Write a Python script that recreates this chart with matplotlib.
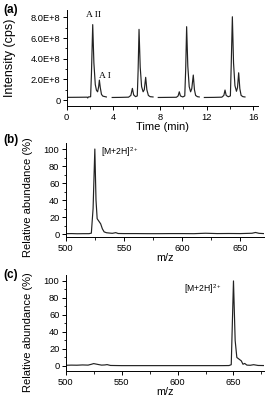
import matplotlib
matplotlib.use("Agg")
import matplotlib.pyplot as plt
from matplotlib.ticker import MultipleLocator, FuncFormatter

plt.rcParams['font.family'] = ['Liberation Sans', 'DejaVu Sans']
plt.rcParams['font.size'] = 6.5
plt.rcParams['mathtext.fontset'] = 'custom'
plt.rcParams['mathtext.rm'] = 'Liberation Sans'
plt.rcParams['mathtext.it'] = 'Liberation Sans'

# (a) chromatogram, four injections, intensity in units of 1e8 cps
seg_t = [
    [0.0, 1.0, 1.75, 1.8, 1.85, 2.05, 2.12, 2.23, 2.33, 2.45, 2.55, 2.65, 2.74, 2.8, 2.88, 2.98, 3.1, 3.4],
    [3.9, 4.6, 5.3, 5.5, 5.63, 5.74, 5.9, 6.05, 6.12, 6.2, 6.3, 6.42, 6.55, 6.65, 6.77, 6.87, 7.0, 7.15, 7.4],
    [7.85, 8.6, 9.4, 9.55, 9.65, 9.75, 9.95, 10.12, 10.2, 10.28, 10.38, 10.5, 10.62, 10.72, 10.85, 10.95, 11.05, 11.2, 11.36],
    [11.8, 12.6, 13.3, 13.47, 13.57, 13.67, 13.85, 14.03, 14.1, 14.2, 14.3, 14.42, 14.55, 14.64, 14.74, 14.84, 14.95, 15.1, 15.28],
]
seg_y = [
    [0.26, 0.27, 0.28, 0.2, 0.3, 0.32, 2.5, 7.3, 3.6, 1.5, 0.95, 0.8, 1.3, 1.93, 1.2, 0.55, 0.38, 0.3],
    [0.25, 0.26, 0.28, 0.45, 1.13, 0.5, 0.33, 0.4, 2.8, 6.84, 3.2, 1.3, 0.8, 1.0, 2.2, 1.0, 0.45, 0.33, 0.3],
    [0.25, 0.26, 0.27, 0.4, 0.8, 0.4, 0.3, 0.4, 3.0, 7.1, 3.3, 1.3, 0.8, 1.1, 2.42, 1.0, 0.45, 0.33, 0.3],
    [0.25, 0.26, 0.28, 0.45, 0.97, 0.45, 0.32, 0.4, 3.3, 8.06, 3.6, 1.4, 0.85, 1.2, 2.64, 1.1, 0.45, 0.33, 0.3],
]

# (b) mass spectrum of A II
mz_b = [500, 505, 510, 515, 520, 522, 523.5, 525, 526, 527, 528.5, 530, 531.5, 533, 535, 537, 540, 543, 545,
        550, 560, 570, 580, 590, 600, 610, 620, 630, 640, 650, 660, 663, 666, 670]
ab_b = [0.4, 0.5, 0.3, 0.4, 0.4, 1.0, 30, 100, 40, 18, 15, 12, 6, 2.5, 1.5, 1.2, 0.8, 1.6, 0.6,
        0.5, 0.5, 0.4, 0.4, 0.5, 0.5, 0.4, 0.9, 0.5, 0.6, 0.5, 0.9, 1.8, 0.8, 0.5]

# (c) mass spectrum of A I
mz_c = [500, 505, 510, 515, 520, 523, 525, 528, 532, 535, 537, 540, 550, 560, 580, 600, 620, 640, 646, 648,
        650, 651.5, 653, 655, 657, 658.5, 660, 662, 665, 668, 672, 677]
ab_c = [0.8, 1.0, 0.9, 1.2, 1.0, 2.0, 2.8, 2.0, 1.0, 1.2, 1.6, 0.6, 0.4, 0.4, 0.4, 0.4, 0.4, 0.4, 0.5, 1.5,
        100, 30, 10, 8, 6, 2.0, 3.0, 1.0, 0.8, 1.5, 0.6, 0.5]

line_color = "#222222"

fig = plt.figure(figsize=(2.65, 3.98), dpi=100)
ax_a = fig.add_axes([0.2517, 0.733, 0.722, 0.2415])
ax_b = fig.add_axes([0.248, 0.4035, 0.747, 0.237])
ax_c = fig.add_axes([0.248, 0.0666, 0.747, 0.2425])

for ax in (ax_a, ax_b, ax_c):
    ax.spines["top"].set_visible(False)
    ax.spines["right"].set_visible(False)
    ax.spines["left"].set_linewidth(0.7)
    ax.spines["bottom"].set_linewidth(0.7)
    ax.tick_params(which="major", direction="out", length=3, width=0.7, pad=1.5, labelsize=6.7)
    ax.tick_params(which="minor", direction="out", length=1.8, width=0.6)

# panel a
for t, y in zip(seg_t, seg_y):
    ax_a.plot(t, [v * 1e8 for v in y], color=line_color, lw=0.85)
ax_a.set_xlim(0, 16.4)
ax_a.set_ylim(-0.6e8, 8.7e8)
ax_a.xaxis.set_major_locator(MultipleLocator(4))
ax_a.xaxis.set_minor_locator(MultipleLocator(2))
ax_a.yaxis.set_major_locator(MultipleLocator(2e8))
ax_a.yaxis.set_minor_locator(MultipleLocator(1e8))
ax_a.yaxis.set_major_formatter(FuncFormatter(lambda v, p: "0" if v == 0 else "%.1fE+8" % (v / 1e8)))
ax_a.set_xlabel("Time (min)", fontsize=8, labelpad=0)
ax_a.set_ylabel("Intensity (cps)", fontsize=9)
ax_a.yaxis.set_label_coords(-0.265, 0.5)
ax_a.text(2.27, 8.2e8, "A II", fontsize=6.8, family="Liberation Serif", ha="center", va="center")
ax_a.text(3.3, 2.35e8, "A I", fontsize=6.8, family="Liberation Serif", ha="center", va="center")

# panels b and c
ax_b.plot(mz_b, ab_b, color=line_color, lw=0.85)
ax_b.set_xlim(500, 670)
ax_b.set_ylim(-4, 107)
ax_c.plot(mz_c, ab_c, color=line_color, lw=0.85)
ax_c.set_xlim(500, 677)
ax_c.set_ylim(-6.5, 107)
for ax in (ax_b, ax_c):
    ax.xaxis.set_major_locator(MultipleLocator(50))
    ax.xaxis.set_minor_locator(MultipleLocator(25))
    ax.yaxis.set_major_locator(MultipleLocator(20))
    ax.yaxis.set_minor_locator(MultipleLocator(10))
    ax.set_xlabel("m/z", fontsize=7.8, labelpad=0)
    ax.set_ylabel("Relative abundance (%)", fontsize=8)
ax_b.yaxis.set_label_coords(-0.166, 0.43)
ax_c.yaxis.set_label_coords(-0.166, 0.41)

ax_b.text(530, 96.5, r"[M+2H]$^{2+}$", fontsize=6.2, va="center")
ax_c.text(606, 90.5, r"[M+2H]$^{2+}$", fontsize=6.2, va="center")

fig.text(0.012, 0.975, "(a)", fontsize=8.5, fontweight="bold", va="center")
fig.text(0.012, 0.648, "(b)", fontsize=8.5, fontweight="bold", va="center")
fig.text(0.012, 0.309, "(c)", fontsize=8.5, fontweight="bold", va="center")

fig.savefig("out.png", dpi=100)
